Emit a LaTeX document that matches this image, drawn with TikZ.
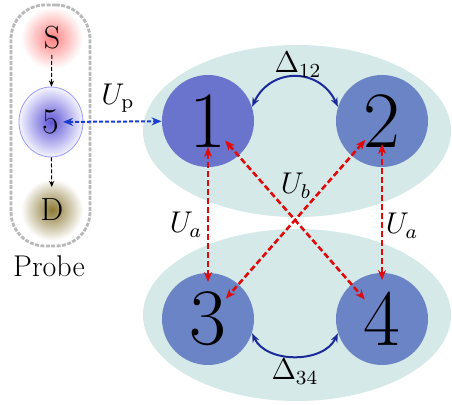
\documentclass[tikz,border=0pt]{standalone}
\usepackage{amsmath,amssymb}
\usepackage{xcolor}
\usepackage{tikz}
\usetikzlibrary{arrows.meta,shapes.geometric}
\definecolor{lobecol}{HTML}{D6E9E9}
\definecolor{dotA}{HTML}{6B74CC}
\definecolor{dotB}{HTML}{6A84C6}
\definecolor{hopred}{HTML}{E00A0A}
\definecolor{detune}{HTML}{1A2A9A}
\definecolor{probeblue}{HTML}{1A3CCF}
\definecolor{probecore}{HTML}{5F55D6}
\definecolor{draincol}{HTML}{8A7833}

\begin{document}
\begin{tikzpicture}[x=0.5pt,y=0.5pt,
  lobe/.style={ellipse,fill=lobecol,minimum width=154pt,minimum height=86pt,inner sep=0pt},
  qd/.style={circle,minimum size=46pt,inner sep=0pt,font=\fontsize{40}{44}\selectfont},
  pdot/.style={circle,minimum size=31pt,inner sep=0pt,shading=radial,outer color=white,font=\fontsize{16}{18}\selectfont},
  lab/.style={font=\fontsize{12}{14}\selectfont,transform shape,scale=1.25},
  hop/.style={draw=hopred,line width=1.3pt,dash pattern=on 3pt off 1.5pt,>={Stealth[length=5pt,width=4pt]},<->},
  detarc/.style={draw=detune,line width=1pt,>={Stealth[length=4.5pt,width=3.5pt]},<->},
  flow/.style={draw=black,line width=0.5pt,dash pattern=on 2pt off 1pt,>={Stealth[length=3pt,width=2.5pt]},->},
]
\useasboundingbox (0,0) rectangle (452,-405);
% double dot pairs
\node[lobe] (upper) at (297,-131) {};
\node[lobe] (lower) at (297,-315) {};
% probe chain
\node[draw=gray!55,line width=1.4pt,dash pattern=on 2pt off 0.7pt,rounded corners=17pt,
  minimum width=39.5pt,minimum height=120.5pt] (probe) at (50.5,-125.5) {};
\node[pdot,inner color=red!50] (S) at (52,-38) {S};
\node[ellipse,minimum width=32pt,minimum height=35pt,inner sep=0pt,draw=blue!40,line width=0.4pt,
  shading=radial,inner color=probecore,outer color=blue!4,font=\fontsize{18}{20}\selectfont] (n5) at (51,-122) {5};
\node[pdot,inner color=draincol] (D) at (52,-210) {D};
\node[font=\fontsize{15}{18}\selectfont] (plabel) at (49,-266) {Probe};
\draw[flow,shorten <=8.5pt] (S.center) -- (n5);
\draw[flow,shorten >=11.5pt] (n5) -- (D.center);
% dots
\node[qd,fill=dotA] (n1) at (208,-121) {1};
\node[qd,fill=dotB] (n2) at (382,-121) {2};
\node[qd,fill=dotB] (n3) at (208,-319) {3};
\node[qd,fill=dotB] (n4) at (382,-319) {4};
% probe coupling
\draw[draw=probeblue,line width=1pt,dash pattern=on 2pt off 1pt,>={Stealth[length=5pt,width=4pt]},<->,
  shorten <=6pt] (n5.center) -- (n1);
\node[lab] (up) at (118,-98) {$U_{\mathrm{p}}$};
% detunings
\draw[detarc] (n1.18) to[out=65,in=115,looseness=1.3] (n2.162);
\draw[detarc] (n3.-18) to[out=-65,in=-115,looseness=1.0] (n4.198);
\node[lab] (d12) at (298,-65) {$\Delta_{12}$};
\node[lab] (d34) at (295,-372) {$\Delta_{34}$};
% interdot couplings
\draw[hop,shorten <=13pt,shorten >=18.5pt] (n1.center) -- (n3.center);
\draw[hop,shorten <=11.5pt,shorten >=19.5pt] (n2.center) -- (n4.center);
\draw[hop,shorten <=13pt,shorten >=13pt] (n1.center) -- (n4.center);
\draw[hop,shorten <=12.5pt,shorten >=13.5pt] (n2.center) -- (n3.center);
\node[lab] (ua1) at (186,-225) {$U_a$};
\node[lab] (ua2) at (402,-226) {$U_a$};
\node[lab] (ub) at (296,-186) {$U_b$};
\end{tikzpicture}
\end{document}
